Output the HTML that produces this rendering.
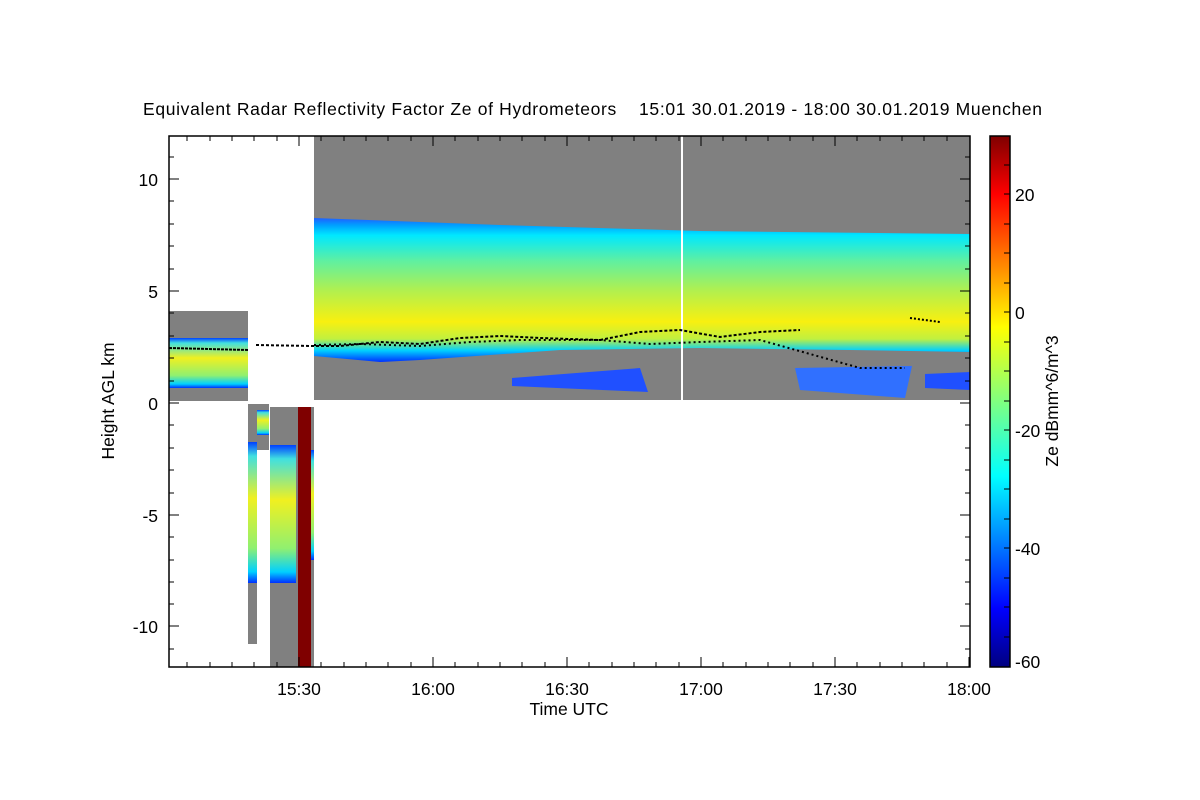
<!DOCTYPE html>
<html><head><meta charset="utf-8"><style>
body{margin:0;background:#fff;}
svg{display:block;font-family:"Liberation Sans",sans-serif;}
</style></head><body>
<svg width="1200" height="800" viewBox="0 0 1200 800">
<defs>
<linearGradient id="band" x1="0" y1="0" x2="0" y2="1">
<stop offset="0" stop-color="#2060ff"/>
<stop offset="0.05" stop-color="#00a0ff"/>
<stop offset="0.12" stop-color="#00e8ff"/>
<stop offset="0.3" stop-color="#60f0a0"/>
<stop offset="0.5" stop-color="#b0f050"/>
<stop offset="0.72" stop-color="#f8f010"/>
<stop offset="0.84" stop-color="#c0f040"/>
<stop offset="0.92" stop-color="#00d0ff"/>
<stop offset="1" stop-color="#0030ff"/>
</linearGradient>
<linearGradient id="band2" x1="0" y1="0" x2="0" y2="1">
<stop offset="0" stop-color="#0040ff"/>
<stop offset="0.1" stop-color="#40e0e0"/>
<stop offset="0.4" stop-color="#f0f020"/>
<stop offset="0.75" stop-color="#90f070"/>
<stop offset="0.92" stop-color="#00d0ff"/>
<stop offset="1" stop-color="#0030ff"/>
</linearGradient>
<linearGradient id="jet" x1="0" y1="1" x2="0" y2="0">
<stop offset="0" stop-color="#00007f"/>
<stop offset="0.11" stop-color="#0000ff"/>
<stop offset="0.36" stop-color="#00ffff"/>
<stop offset="0.5" stop-color="#80ff80"/>
<stop offset="0.64" stop-color="#ffff00"/>
<stop offset="0.89" stop-color="#ff0000"/>
<stop offset="1" stop-color="#7f0000"/>
</linearGradient>
</defs>
<text x="143" y="115" font-size="17.5" xml:space="preserve" style="white-space:pre" textLength="899" lengthAdjust="spacing">Equivalent Radar Reflectivity Factor Ze of Hydrometeors    15:01 30.01.2019 - 18:00 30.01.2019 Muenchen</text>
<!-- upper data -->
<rect x="169" y="311" width="79" height="90" fill="#808080"/>
<rect x="169" y="338" width="79" height="50" fill="url(#band2)"/>
<rect x="314" y="136" width="656" height="264" fill="#808080"/>
<path d="M314,218 L500,225 L700,231 L970,234 L970,352 L850,350 L700,348 L560,350 L420,360 L380,362 L314,356 Z" fill="url(#band)"/>
<path d="M512,378 L640,368 L648,392 L512,386Z" fill="#2050ff"/>
<path d="M795,368 L912,366 L905,398 L800,390Z" fill="#3070ff"/>
<path d="M925,374 L970,372 L970,390 L925,388Z" fill="#2050ff"/>
<rect x="681" y="136" width="2" height="264" fill="#fff"/>
<polyline points="169,348 248,350" stroke="#000" stroke-width="2" stroke-dasharray="3 1" fill="none"/>
<polyline points="256,345 312,346 340,346 380,342 420,344 460,338 500,336 540,338 600,340 640,332 680,330 720,337 760,332 800,330" stroke="#000" stroke-width="2" stroke-dasharray="3 2" fill="none"/>
<polyline points="314,345 360,344 420,346 470,342 520,340 600,340 650,344 700,342 760,340 860,368 905,368" stroke="#000" stroke-width="2" stroke-dasharray="2 3" fill="none"/>
<polyline points="910,318 940,322" stroke="#000" stroke-width="2" stroke-dasharray="2 2" fill="none"/>
<!-- lower blocks -->
<rect x="248" y="404" width="9" height="240" fill="#808080"/>
<rect x="248" y="442" width="9" height="141" fill="url(#band2)"/>
<rect x="257" y="404" width="12" height="46" fill="#808080"/>
<rect x="257" y="410" width="12" height="25" fill="url(#band2)"/>
<rect x="270" y="407" width="28" height="260" fill="#808080"/>
<rect x="270" y="445" width="26" height="138" fill="url(#band2)"/>
<rect x="298" y="407" width="13" height="260" fill="#7f0000"/>
<rect x="311" y="407" width="3" height="260" fill="#808080"/>
<rect x="311" y="450" width="3" height="110" fill="url(#band2)"/>
<!-- frame -->
<rect x="169" y="136" width="801" height="531" fill="none" stroke="#000" stroke-width="1.5"/>
<g stroke="#000" stroke-width="1">
<path d="M169,179h10M169,291h10M169,403h10M169,515h10M169,626h10M960,179h10M960,291h10M960,403h10M960,515h10M960,626h10"/>
<path d="M169,157h5M169,201h5M169,224h5M169,246h5M169,269h5M169,313h5M169,336h5M169,358h5M169,381h5M169,425h5M169,448h5M169,470h5M169,493h5M169,537h5M169,560h5M169,582h5M169,604h5M169,649h5
M965,157h5M965,201h5M965,224h5M965,246h5M965,269h5M965,313h5M965,336h5M965,358h5M965,381h5M965,425h5M965,448h5M965,470h5M965,493h5M965,537h5M965,560h5M965,582h5M965,604h5M965,649h5"/>
<path d="M299,667v-10M433,667v-10M567,667v-10M701,667v-10M835,667v-10M969,667v-10M299,136v10M433,136v10M567,136v10M701,136v10M835,136v10"/>
<path d="M187,667v-5M210,667v-5M232,667v-5M254,667v-5M277,667v-5M321,667v-5M344,667v-5M366,667v-5M388,667v-5M411,667v-5M455,667v-5M478,667v-5M500,667v-5M522,667v-5M545,667v-5M589,667v-5M612,667v-5M634,667v-5M656,667v-5M679,667v-5M723,667v-5M746,667v-5M768,667v-5M790,667v-5M813,667v-5M857,667v-5M880,667v-5M902,667v-5M924,667v-5M947,667v-5
M187,136v5M210,136v5M232,136v5M254,136v5M277,136v5M321,136v5M344,136v5M366,136v5M388,136v5M411,136v5M455,136v5M478,136v5M500,136v5M522,136v5M545,136v5M589,136v5M612,136v5M634,136v5M656,136v5M679,136v5M723,136v5M746,136v5M768,136v5M790,136v5M813,136v5M857,136v5M880,136v5M902,136v5M924,136v5M947,136v5"/>
</g>
<g font-size="17.5" text-anchor="end">
<text x="158" y="186">10</text><text x="158" y="298">5</text><text x="158" y="410">0</text><text x="158" y="522">-5</text><text x="158" y="633">-10</text>
</g>
<g font-size="17.5" text-anchor="middle">
<text x="299" y="695">15:30</text><text x="433" y="695">16:00</text><text x="567" y="695">16:30</text><text x="701" y="695">17:00</text><text x="835" y="695">17:30</text><text x="969" y="695">18:00</text>
<text x="569" y="715">Time UTC</text>
</g>
<text transform="translate(114,401) rotate(-90)" font-size="17.5" text-anchor="middle">Height AGL km</text>
<!-- colorbar -->
<rect x="990" y="136" width="20" height="531" fill="url(#jet)" stroke="#000" stroke-width="1.5"/>
<g stroke="#000" stroke-width="1">
<path d="M1004,194h6M1004,312h6M1004,430h6M1004,548h6M1004,165h6M1004,224h6M1004,253h6M1004,283h6M1004,342h6M1004,371h6M1004,401h6M1004,460h6M1004,489h6M1004,519h6M1004,578h6M1004,607h6M1004,637h6"/>
</g>
<g font-size="17.5">
<text x="1015" y="201">20</text><text x="1015" y="319">0</text><text x="1015" y="437">-20</text><text x="1015" y="555">-40</text><text x="1015" y="668">-60</text>
</g>
<text transform="translate(1058,401) rotate(-90)" font-size="17.5" text-anchor="middle">Ze dBmm^6/m^3</text>
</svg>
</body></html>
